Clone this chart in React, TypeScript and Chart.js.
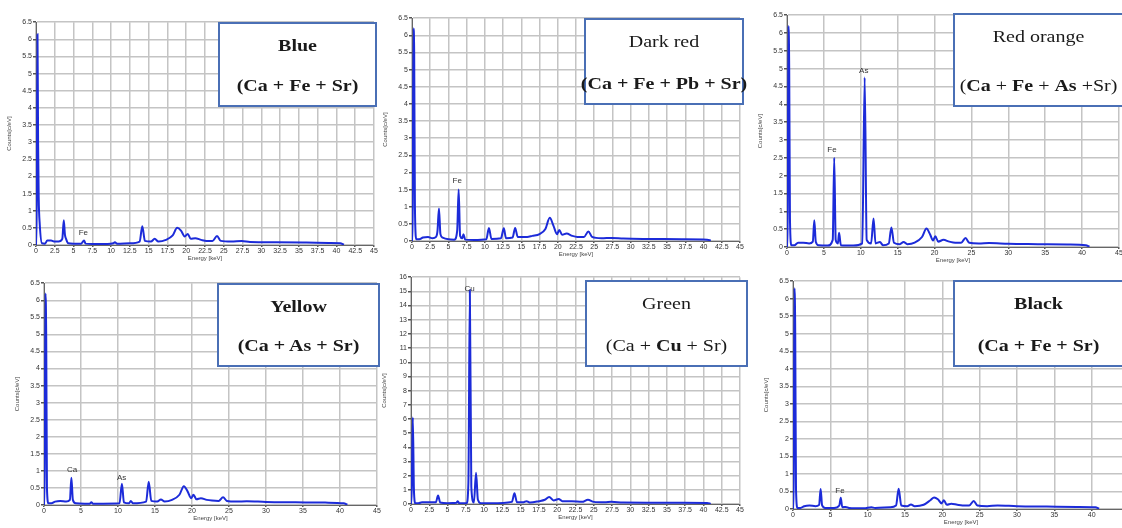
import React, { useEffect, useRef } from 'react';
import { Chart, registerables } from 'chart.js';
Chart.register(...registerables);

// ---- Spectra data (energy keV / counts) ----
const blueEnergy = [0, 0.1, 0.2, 0.28, 0.36, 0.5, 0.8, 1.2, 1.5, 2.0, 2.5, 3.0, 3.5, 3.7, 3.85, 4.0, 4.3, 5.0, 6.0, 6.25, 6.4, 6.6, 7.5, 9.5, 10.3, 10.5, 10.8, 12.5, 13.8, 14.15, 14.5, 15.3, 15.8, 16.3, 17.3, 18.2, 18.8, 19.3, 19.8, 20.2, 20.6, 21.2, 22.0, 22.7, 23.5, 24.1, 24.6, 26.0, 27.4, 28.5, 32.0, 36.0, 39.0, 40.5, 41.0];
const blueCounts = [0, 1.2, 6.15, 3.0, 1.4, 0.6, 0.05, 0.04, 0.13, 0.13, 0.1, 0.1, 0.18, 0.72, 0.3, 0.18, 0.05, 0.04, 0.04, 0.1, 0.13, 0.04, 0.03, 0.03, 0.05, 0.08, 0.04, 0.05, 0.1, 0.55, 0.12, 0.1, 0.18, 0.1, 0.15, 0.28, 0.5, 0.42, 0.25, 0.32, 0.18, 0.2, 0.15, 0.12, 0.12, 0.26, 0.12, 0.1, 0.12, 0.09, 0.08, 0.07, 0.06, 0.05, 0.01];

const darkRedEnergy = [0, 0.1, 0.2, 0.3, 0.4, 0.6, 1.0, 1.5, 2.2, 2.8, 3.3, 3.5, 3.7, 3.9, 4.2, 5.0, 5.8, 6.2, 6.4, 6.6, 6.9, 7.06, 7.3, 8.5, 10.2, 10.55, 10.9, 12.2, 12.6, 12.9, 13.8, 14.15, 14.5, 15.8, 16.5, 17.5, 18.3, 18.9, 19.4, 19.9, 20.2, 20.6, 21.2, 22.0, 22.7, 23.6, 24.2, 24.7, 26.0, 27.4, 29.0, 33.0, 37.0, 40.5, 41.0];
const darkRedCounts = [0, 1.0, 6.2, 5.5, 1.0, 0.05, 0.05, 0.1, 0.12, 0.08, 0.12, 0.3, 0.95, 0.2, 0.1, 0.05, 0.04, 0.3, 1.5, 0.15, 0.08, 0.2, 0.04, 0.03, 0.05, 0.38, 0.06, 0.08, 0.37, 0.08, 0.1, 0.38, 0.12, 0.12, 0.15, 0.2, 0.35, 0.68, 0.45, 0.2, 0.32, 0.18, 0.22, 0.15, 0.12, 0.12, 0.28, 0.12, 0.08, 0.09, 0.07, 0.06, 0.05, 0.04, 0.01];

const redOrangeEnergy = [0, 0.1, 0.2, 0.3, 0.4, 0.6, 1.0, 1.5, 2.2, 3.0, 3.5, 3.7, 3.9, 4.3, 5.5, 6.2, 6.4, 6.6, 6.9, 7.06, 7.3, 8.0, 9.0, 10.2, 10.53, 10.8, 11.4, 11.73, 12.0, 12.6, 13.0, 13.8, 14.15, 14.5, 15.3, 15.8, 16.3, 17.3, 18.3, 18.9, 19.4, 19.8, 20.1, 20.5, 21.2, 22.0, 22.8, 23.6, 24.2, 24.7, 26.0, 27.4, 30.0, 34.0, 38.0, 40.5, 41.0];
const redOrangeCounts = [0, 1.0, 6.2, 5.0, 0.8, 0.05, 0.05, 0.12, 0.12, 0.1, 0.15, 0.75, 0.15, 0.05, 0.04, 0.2, 2.5, 0.2, 0.1, 0.4, 0.05, 0.04, 0.04, 0.1, 4.75, 0.2, 0.1, 0.8, 0.1, 0.14, 0.05, 0.1, 0.55, 0.12, 0.08, 0.14, 0.08, 0.12, 0.28, 0.52, 0.35, 0.18, 0.3, 0.15, 0.2, 0.15, 0.12, 0.12, 0.25, 0.12, 0.1, 0.11, 0.09, 0.08, 0.07, 0.05, 0.01];

const yellowEnergy = [0, 0.1, 0.2, 0.3, 0.4, 0.6, 1.0, 1.5, 2.2, 3.0, 3.5, 3.7, 3.9, 4.3, 5.5, 6.2, 6.4, 6.6, 8.0, 10.2, 10.53, 10.8, 11.5, 11.73, 12.0, 13.8, 14.15, 14.5, 15.3, 15.8, 16.3, 17.3, 18.3, 18.9, 19.4, 19.9, 20.2, 20.6, 21.2, 22.0, 22.7, 23.6, 24.2, 24.7, 26.0, 27.4, 30.0, 34.0, 38.0, 40.5, 41.0];
const yellowCounts = [0, 1.2, 6.2, 4.9, 0.5, 0.05, 0.05, 0.1, 0.12, 0.1, 0.15, 0.8, 0.15, 0.05, 0.04, 0.04, 0.08, 0.04, 0.04, 0.05, 0.62, 0.08, 0.05, 0.12, 0.05, 0.1, 0.68, 0.12, 0.1, 0.16, 0.1, 0.15, 0.3, 0.55, 0.4, 0.2, 0.3, 0.17, 0.2, 0.15, 0.13, 0.12, 0.23, 0.12, 0.1, 0.11, 0.09, 0.08, 0.07, 0.05, 0.01];

const greenEnergy = [0, 0.1, 0.25, 0.4, 0.6, 1.0, 1.5, 2.5, 3.4, 3.7, 4.0, 5.0, 6.2, 6.4, 6.6, 7.6, 7.85, 8.05, 8.25, 8.6, 8.9, 9.15, 9.6, 11.0, 13.8, 14.15, 14.5, 15.4, 15.8, 16.3, 17.5, 18.3, 18.9, 19.5, 20.2, 20.7, 22.0, 23.4, 24.2, 25.0, 26.5, 27.4, 29.0, 33.0, 37.0, 40.5, 41.0];
const greenCounts = [0, 1.0, 6.1, 1.0, 0.05, 0.05, 0.12, 0.12, 0.12, 0.6, 0.1, 0.06, 0.08, 0.2, 0.05, 0.05, 1.5, 15.1, 1.2, 0.1, 2.2, 0.3, 0.05, 0.05, 0.15, 0.75, 0.12, 0.12, 0.2, 0.1, 0.2, 0.3, 0.5, 0.25, 0.35, 0.2, 0.2, 0.15, 0.3, 0.15, 0.12, 0.15, 0.1, 0.09, 0.08, 0.07, 0.01];

const blackEnergy = [0, 0.1, 0.2, 0.3, 0.4, 0.6, 1.0, 1.5, 2.2, 3.0, 3.5, 3.7, 3.9, 4.3, 5.5, 6.2, 6.4, 6.6, 7.06, 7.5, 9.5, 10.5, 11.0, 13.0, 13.8, 14.15, 14.5, 15.3, 15.8, 16.3, 17.5, 18.4, 18.9, 19.4, 19.9, 20.2, 20.6, 21.2, 22.0, 22.7, 23.6, 24.2, 24.7, 26.0, 27.4, 30.0, 34.0, 38.0, 40.5, 41.0];
const blackCounts = [0, 1.0, 6.3, 5.0, 0.6, 0.03, 0.03, 0.08, 0.1, 0.08, 0.12, 0.57, 0.1, 0.03, 0.03, 0.1, 0.32, 0.05, 0.06, 0.03, 0.02, 0.05, 0.03, 0.05, 0.1, 0.58, 0.1, 0.08, 0.13, 0.08, 0.12, 0.25, 0.33, 0.28, 0.16, 0.25, 0.12, 0.15, 0.12, 0.1, 0.1, 0.23, 0.1, 0.08, 0.1, 0.08, 0.07, 0.06, 0.05, 0.01];

// ---- Peak labels ----
const blueLabelText = ['Fe'];
const blueLabelX = [6.3];
const blueLabelY = [0.35];
const darkRedLabelText = ['Fe'];
const darkRedLabelX = [6.2];
const darkRedLabelY = [1.75];
const redOrangeLabelText = ['Fe', 'As'];
const redOrangeLabelX = [6.1, 10.4];
const redOrangeLabelY = [2.72, 4.93];
const yellowLabelText = ['Ca', 'As'];
const yellowLabelX = [3.8, 10.5];
const yellowLabelY = [1.02, 0.79];
const greenLabelText = ['Cu'];
const greenLabelX = [8.0];
const greenLabelY = [15.2];
const blackLabelText = ['Fe'];
const blackLabelX = [6.3];
const blackLabelY = [0.51];

// ---- Title boxes ----
const panelNames = ['Blue', 'Dark red', 'Red orange', 'Yellow', 'Green', 'Black'];
const panelNameBold = [true, false, false, true, false, true];
type Part = [string, boolean];
const blueFormula: Part[] = [['(Ca + Fe + Sr)', true]];
const darkRedFormula: Part[] = [['(Ca + Fe + Pb + Sr)', true]];
const redOrangeFormula: Part[] = [['(', false], ['Ca', true], [' + ', false], ['Fe', true], [' + ', false], ['As', true], [' +Sr)', false]];
const yellowFormula: Part[] = [['(Ca + As + Sr)', true]];
const greenFormula: Part[] = [['(Ca + ', false], ['Cu', true], [' + Sr)', false]];
const blackFormula: Part[] = [['(Ca + Fe + Sr)', true]];

type Rect = { l: number; t: number; r: number; b: number };
interface PanelCfg {
  energy: number[]; counts: number[];
  xStep: number; yMax: number; yStep: number;
  plot: Rect; box: Rect;
  name: string; nameBold: boolean; formula: Part[];
  lt: string[]; lx: number[]; ly: number[];
}

const Y_W = 30, X_H = 17, PAD_T = 5, PAD_R = 8;

function Panel({ cfg }: { cfg: PanelCfg }) {
  const ref = useRef<HTMLCanvasElement>(null);
  const { plot } = cfg;
  const left = plot.l - Y_W;
  const top = plot.t - PAD_T;
  const width = plot.r + PAD_R - left;
  const height = plot.b + X_H - top;
  useEffect(() => {
    if (!ref.current) return;
    const tickFmt = (v: any) => String(+(+v).toFixed(2));
    const labelPlugin = {
      id: 'peakLabels',
      afterDatasetsDraw(chart: any) {
        const ctx = chart.ctx;
        ctx.save();
        ctx.font = '8px "Liberation Sans"';
        ctx.fillStyle = '#333';
        ctx.textAlign = 'center';
        ctx.textBaseline = 'middle';
        cfg.lt.forEach((t, i) => {
          ctx.fillText(t, chart.scales.x.getPixelForValue(cfg.lx[i]), chart.scales.y.getPixelForValue(cfg.ly[i]));
        });
        ctx.restore();
      },
    };
    const chart = new Chart(ref.current, {
      type: 'line',
      data: {
        datasets: [{
          data: cfg.energy.map((e, i) => ({ x: e, y: cfg.counts[i] })),
          borderColor: '#1c2bd9',
          borderWidth: 2,
          pointRadius: 0,
          cubicInterpolationMode: 'monotone',
          fill: false,
        }],
      },
      options: {
        animation: false,
        responsive: false,
        layout: { padding: { top: PAD_T, right: PAD_R, left: 0, bottom: 0 } },
        plugins: { legend: { display: false }, tooltip: { enabled: false } },
        scales: {
          x: {
            type: 'linear', min: 0, max: 45,
            ticks: { stepSize: cfg.xStep, autoSkip: false, maxRotation: 0, padding: 0, color: '#333', font: { size: 7, family: 'Liberation Sans' }, callback: tickFmt },
            grid: { color: '#c4c4c4', lineWidth: 1.5, tickLength: 2, tickColor: '#555' },
            border: { color: '#666', width: 1 },
            title: { display: true, text: 'Energy [keV]', color: '#444', font: { size: 6, family: 'Liberation Sans' }, padding: { top: 0, bottom: 0 } },
            afterFit: (s: any) => { s.height = X_H; },
          },
          y: {
            type: 'linear', min: 0, max: cfg.yMax,
            ticks: { stepSize: cfg.yStep, autoSkip: false, padding: 1, color: '#333', font: { size: 7, family: 'Liberation Sans' }, callback: tickFmt },
            grid: { color: '#c4c4c4', lineWidth: 1.5, tickLength: 3, tickColor: '#555' },
            border: { color: '#666', width: 1 },
            title: { display: true, text: 'Counts[c/eV]', color: '#444', font: { size: 6, family: 'Liberation Sans' }, padding: { top: 0, bottom: 2 } },
            afterFit: (s: any) => { s.width = Y_W; },
          },
        },
      },
      plugins: [labelPlugin],
    } as any);
    return () => chart.destroy();
  }, []);
  const box = cfg.box;
  const bh = box.b - box.t;
  const lineStyle: React.CSSProperties = { position: 'absolute', left: 0, right: 0, textAlign: 'center', lineHeight: '20px', whiteSpace: 'nowrap', transform: 'scaleX(1.25)' };
  return (
    <>
      <canvas ref={ref} width={width} height={height} style={{ position: 'absolute', left, top, width, height }} />
      <div style={{ position: 'absolute', left: box.l, top: box.t, width: box.r - box.l, height: bh, boxSizing: 'border-box', border: '2px solid #4a6fb5', background: '#fff', fontFamily: '"Liberation Serif", "Times New Roman", serif', fontSize: 16, color: '#1a1a1a' }}>
        <div style={{ ...lineStyle, top: 12, fontWeight: cfg.nameBold ? 'bold' : 'normal' }}>{cfg.name}</div>
        <div style={{ ...lineStyle, top: bh - 33 }}>
          {cfg.formula.map(([t, b], i) => <span key={i} style={{ fontWeight: b ? 'bold' : 'normal' }}>{t}</span>)}
        </div>
      </div>
    </>
  );
}

const panels: PanelCfg[] = [
  { energy: blueEnergy, counts: blueCounts, xStep: 2.5, yMax: 6.5, yStep: 0.5, plot: { l: 36, t: 22, r: 374, b: 245 }, box: { l: 218, t: 22, r: 377, b: 107 }, name: panelNames[0], nameBold: panelNameBold[0], formula: blueFormula, lt: blueLabelText, lx: blueLabelX, ly: blueLabelY },
  { energy: darkRedEnergy, counts: darkRedCounts, xStep: 2.5, yMax: 6.5, yStep: 0.5, plot: { l: 412, t: 18, r: 740, b: 241 }, box: { l: 584, t: 18, r: 744, b: 105 }, name: panelNames[1], nameBold: panelNameBold[1], formula: darkRedFormula, lt: darkRedLabelText, lx: darkRedLabelX, ly: darkRedLabelY },
  { energy: redOrangeEnergy, counts: redOrangeCounts, xStep: 5, yMax: 6.5, yStep: 0.5, plot: { l: 787, t: 15, r: 1119, b: 247 }, box: { l: 953, t: 13, r: 1124, b: 107 }, name: panelNames[2], nameBold: panelNameBold[2], formula: redOrangeFormula, lt: redOrangeLabelText, lx: redOrangeLabelX, ly: redOrangeLabelY },
  { energy: yellowEnergy, counts: yellowCounts, xStep: 5, yMax: 6.5, yStep: 0.5, plot: { l: 44, t: 283, r: 377, b: 505 }, box: { l: 217, t: 283, r: 380, b: 367 }, name: panelNames[3], nameBold: panelNameBold[3], formula: yellowFormula, lt: yellowLabelText, lx: yellowLabelX, ly: yellowLabelY },
  { energy: greenEnergy, counts: greenCounts, xStep: 2.5, yMax: 16, yStep: 1, plot: { l: 411, t: 277, r: 740, b: 504 }, box: { l: 585, t: 280, r: 748, b: 367 }, name: panelNames[4], nameBold: panelNameBold[4], formula: greenFormula, lt: greenLabelText, lx: greenLabelX, ly: greenLabelY },
  { energy: blackEnergy, counts: blackCounts, xStep: 5, yMax: 6.5, yStep: 0.5, plot: { l: 793, t: 281, r: 1129, b: 509 }, box: { l: 953, t: 280, r: 1124, b: 367 }, name: panelNames[5], nameBold: panelNameBold[5], formula: blackFormula, lt: blackLabelText, lx: blackLabelX, ly: blackLabelY },
];

export default function App() {
  return (
    <div style={{ position: 'absolute', left: 0, top: 0, width: 1122, height: 528, overflow: 'hidden', background: '#fff' }}>
      {panels.map((p, i) => <Panel key={i} cfg={p} />)}
    </div>
  );
}
